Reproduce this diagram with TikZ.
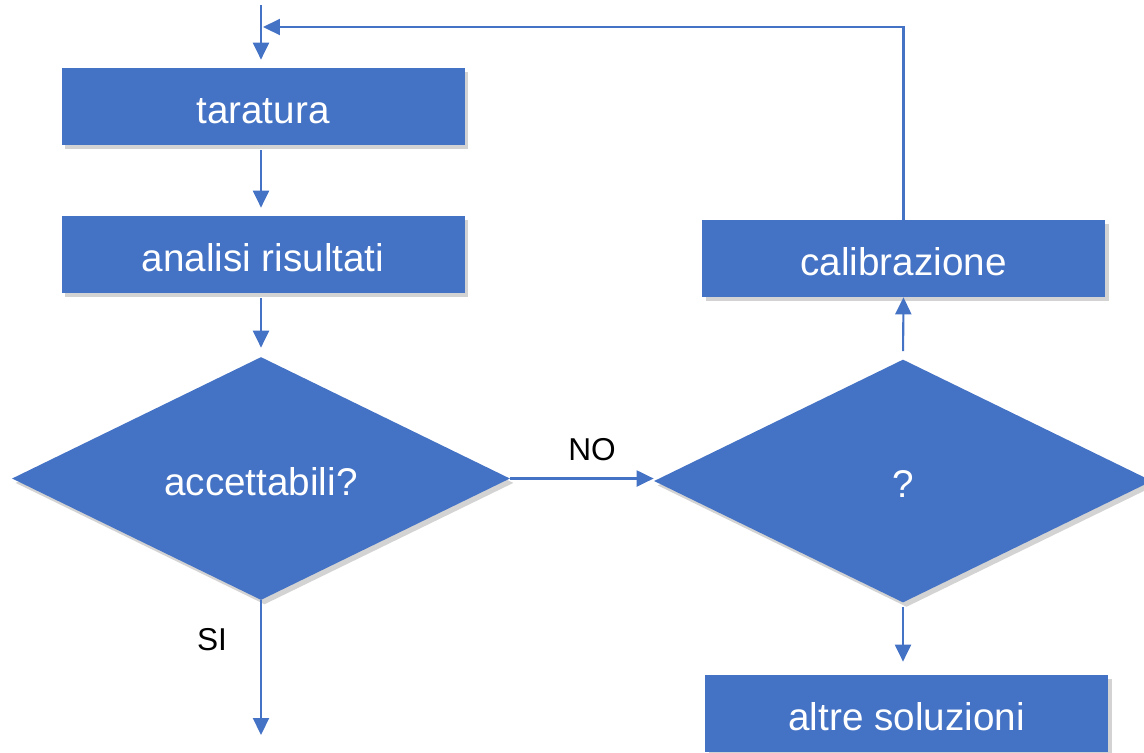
\documentclass[tikz,border=0pt]{standalone}
\usepackage{fontspec}
\setmainfont{Liberation Sans}
\usetikzlibrary{shapes.geometric,shadows,arrows.meta}
\definecolor{boxblue}{HTML}{4472C4}
\begin{document}
\begin{tikzpicture}[x=0.02cm,y=-0.02cm]
				\tikzstyle{Box} = [rectangle, fill=boxblue, text=white, minimum width=403*0.02cm, minimum height=77*0.02cm, inner sep=0pt, font=\fontsize{22}{26}\selectfont, text height=18.8pt, text depth=0pt, drop shadow={shadow xshift=2pt, shadow yshift=-2.5pt, opacity=0.35}]
				\tikzstyle{Test} = [diamond, fill=boxblue, text=white, minimum width=498*0.02cm, minimum height=243*0.02cm, inner sep=0pt, font=\fontsize{22}{26}\selectfont, text height=18.8pt, text depth=0pt, drop shadow={shadow xshift=2pt, shadow yshift=-2.5pt, opacity=0.35}]
				\tikzstyle{Flow} = [boxblue, line width=1.2pt, -{Triangle[length=0.34cm,width=0.32cm]}]
				\tikzstyle{Answer} = [font=\fontsize{18}{22}\selectfont]
				\useasboundingbox (0,0) rectangle (1144,752);
				\clip (0,0) rectangle (1144,752);
				\node (taratura) at (263,106.5) [Box] {taratura};
				\node (analisi) at (263,254.5) [Box] {analisi risultati};
				\node (accettabili) at (261,478.5) [Test] {accettabili?};
				\node (scelta) at (903,481) [Test] {?};
				\node (calibrazione) at (903.5,258.5) [Box] {calibrazione};
				\node (altre) at (906.5,713.5) [Box] {altre soluzioni};
				\coordinate (inizio) at (261,5);
				\coordinate (ritorno) at (263,27);
				\coordinate (fine) at (261,735);
				\node (no) at (592,450) [Answer] {NO};
				\node (si) at (212,640) [Answer] {SI};
				\draw [Flow, shorten >=8*0.02cm] (inizio) to (taratura.north -| inizio);
				\draw [Flow] (calibrazione.north) |- (ritorno);
				\draw [Flow, shorten <=5*0.02cm, shorten >=8*0.02cm] (taratura.south -| inizio) to (analisi.north -| inizio);
				\draw [Flow, shorten <=5*0.02cm, shorten >=9*0.02cm] (analisi.south -| inizio) to (accettabili.north);
				\draw [Flow] (accettabili.east) to (accettabili.east -| scelta.west);
				\draw [Flow] (accettabili.south) to (fine);
				\draw [Flow, shorten <=8*0.02cm] (scelta.north) to (calibrazione.south);
				\draw [Flow, shorten <=4*0.02cm, shorten >=13*0.02cm] (scelta.south) to (altre.north -| scelta.south);
			\end{tikzpicture}
\end{document}
